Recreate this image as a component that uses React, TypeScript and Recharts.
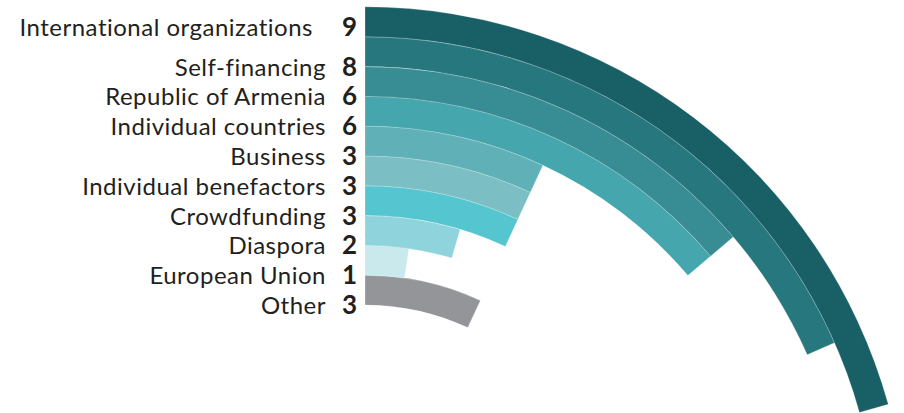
import { LabelList, PolarAngleAxis, PolarRadiusAxis, RadialBar, RadialBarChart, Cell } from 'recharts'

// listed top (outer ring) to bottom (inner ring)
const SOURCES = [
  'International organizations',
  'Self-financing',
  'Republic of Armenia',
  'Individual countries',
  'Business',
  'Individual benefactors',
  'Crowdfunding',
  'Diaspora',
  'European Union',
  'Other',
]
const COUNTS = [9, 8, 6, 6, 3, 3, 3, 2, 1, 3]
const COLORS = [
  '#185f66',
  '#27777e',
  '#388c93',
  '#46a6ad',
  '#60b0b7',
  '#7bbfc5',
  '#55c6d0',
  '#8fd4dc',
  '#c9e9ec',
  '#939598',
]

// recharts puts the first category on the innermost ring
const data = SOURCES.map((name, i) => ({ name, value: COUNTS[i], fill: COLORS[i] })).reverse()

const FONT = 'Lato, "DejaVu Sans", sans-serif'
const OUTER = data.length - 1

function baseline(vb: any, index: number) {
  const mid = vb.cy - (vb.innerRadius + vb.outerRadius) / 2
  // the top row sits a little higher than the others in the original
  return mid + (index === OUTER ? 14 : 24)
}

const NameLabel = (props: any) => {
  const vb = props.viewBox
  if (!vb) return null
  return (
    <text
      x={vb.cx - (props.index === OUTER ? 52 : 39)}
      y={baseline(vb, props.index)}
      textAnchor="end"
      fill="#231f20"
      fontSize={24}
      letterSpacing={0.5}
      fontFamily={FONT}
    >
      {props.value}
    </text>
  )
}

const CountLabel = (props: any) => {
  const vb = props.viewBox
  if (!vb) return null
  return (
    <text
      x={vb.cx - 8}
      y={baseline(vb, props.index)}
      textAnchor="end"
      fill="#231f20"
      fontSize={26}
      fontWeight={700}
      fontFamily={FONT}
    >
      {props.value}
    </text>
  )
}

export default function App() {
  return (
    <div style={{ position: 'absolute', left: 0, top: 0, width: 904, height: 413, background: '#fff' }}>
      <RadialBarChart
        width={904}
        height={413}
        data={data}
        cx={365}
        cy={550}
        innerRadius={245}
        outerRadius={543}
        startAngle={90}
        endAngle={0}
        barCategoryGap={0}
        margin={{ top: 0, right: 0, bottom: 0, left: 0 }}
      >
        <PolarAngleAxis type="number" domain={[0, 10.88]} tick={false} axisLine={false} tickLine={false} />
        <PolarRadiusAxis type="category" dataKey="name" tick={false} axisLine={false} tickLine={false} />
        <RadialBar dataKey="value" isAnimationActive={false} stroke="rgba(255,255,255,0.45)" strokeWidth={0.6}>
          {data.map((d) => (
            <Cell key={d.name} fill={d.fill} />
          ))}
          <LabelList dataKey="name" content={NameLabel} />
          <LabelList dataKey="value" content={CountLabel} />
        </RadialBar>
      </RadialBarChart>
    </div>
  )
}
